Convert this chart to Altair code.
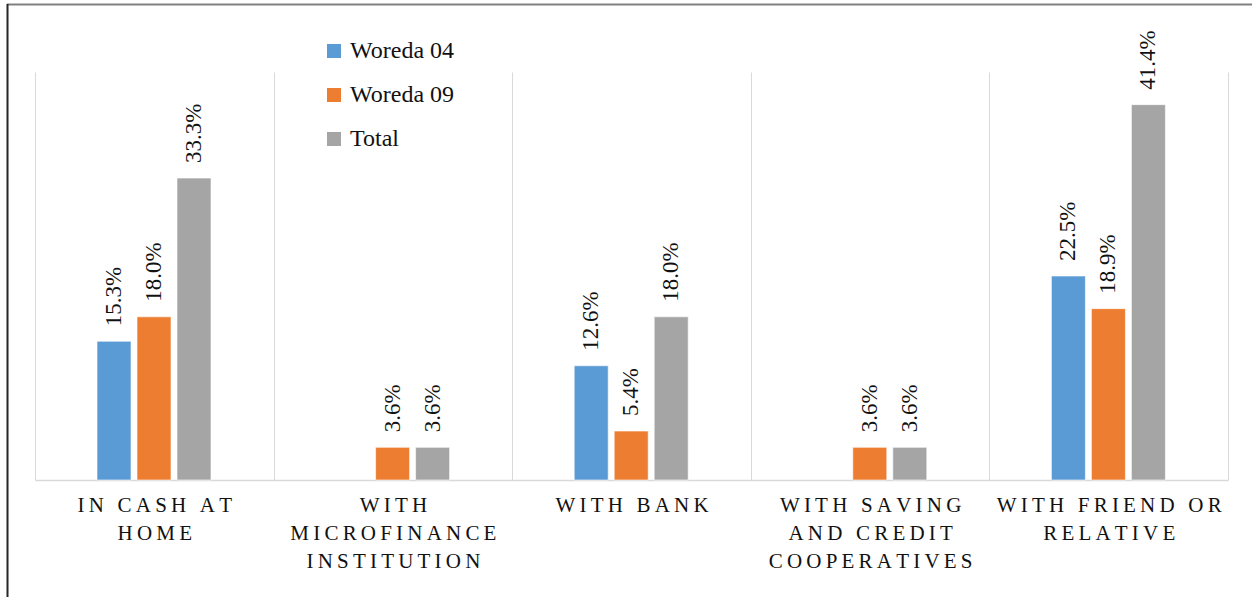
import altair as alt
import pandas as pd

# Where households keep their savings, by woreda (share of respondents, %)
categories = [
    "IN CASH AT HOME",
    "WITH MICROFINANCE INSTITUTION",
    "WITH BANK",
    "WITH SAVING AND CREDIT COOPERATIVES",
    "WITH FRIEND OR RELATIVE",
]
category_lines = [
    ["IN CASH AT", "HOME"],
    ["WITH", "MICROFINANCE", "INSTITUTION"],
    ["WITH BANK"],
    ["WITH SAVING", "AND CREDIT", "COOPERATIVES"],
    ["WITH FRIEND OR", "RELATIVE"],
]
series = ["Woreda 04", "Woreda 09", "Total"]
woreda_04 = [15.3, None, 12.6, None, 22.5]
woreda_09 = [18.0, 3.6, 5.4, 3.6, 18.9]
total = [33.3, 3.6, 18.0, 3.6, 41.4]
colors = ["#5B9BD5", "#ED7D31", "#A5A5A5"]

rows = []
for name, vals in zip(series, [woreda_04, woreda_09, total]):
    for cat, v in zip(categories, vals):
        if v is not None:
            rows.append({"category": cat, "series": name, "value": v,
                         "label": f"{v:.1f}%"})
df = pd.DataFrame(rows)

# Spaced-out, wrapped axis labels
THIN = "\u2009"
spaced = {cat: [THIN.join(line) for line in lines]
          for cat, lines in zip(categories, category_lines)}
label_expr = "{" + ", ".join(
    "'" + k + "': [" + ", ".join("'" + s + "'" for s in v) + "]"
    for k, v in spaced.items()) + "}[datum.label]"

SERIF = "Liberation Serif"

x = alt.X("category:N", sort=categories, title=None,
          scale=alt.Scale(paddingInner=0, paddingOuter=0),
          axis=alt.Axis(labelExpr=label_expr, labelAngle=0, labelFont=SERIF,
                        labelFontSize=21, labelColor="#111111",
                        labelPadding=14, labelLineHeight=28,
                        labelBaseline="top", labelLimit=0,
                        ticks=False, grid=True, tickBand="extent",
                        gridColor="#d9d9d9", gridWidth=1,
                        domainColor="#d9d9d9", domainWidth=1.5))
# three bars of ~34px with ~6px gaps, centred in each category band
xoff = alt.XOffset("series:N", sort=series,
                   scale=alt.Scale(domain=series, paddingInner=0.15,
                                   paddingOuter=0, range=[62, 176]))
y = alt.Y("value:Q", axis=None, scale=alt.Scale(domain=[0, 45], nice=False))

bars = alt.Chart(df).mark_bar(stroke="white", strokeWidth=0.6).encode(
    x=x, xOffset=xoff, y=y,
    color=alt.Color("series:N", sort=series,
                    scale=alt.Scale(domain=series, range=colors),
                    legend=alt.Legend(title=None, orient="none", legendX=287,
                                      legendY=-33, symbolType="square",
                                      symbolSize=196, symbolStrokeWidth=0,
                                      labelFont=SERIF, labelFontSize=24,
                                      labelColor="#111111", labelOffset=4,
                                      labelLimit=0, rowPadding=20)),
)

labels = alt.Chart(df).mark_text(angle=270, align="left", baseline="middle",
                                 dx=15, font=SERIF, fontSize=23,
                                 color="#111111").encode(
    x=alt.X("category:N", sort=categories), xOffset=xoff, y=y,
    text="label:N",
)

frame_src = pd.DataFrame({"k": [0]})
top_line = alt.Chart(frame_src).mark_rule(color="#808080", strokeWidth=2).encode(
    x=alt.value(-28), x2=alt.value(1217), y=alt.value(-67.5))
left_line = alt.Chart(frame_src).mark_rule(color="#262626", strokeWidth=2).encode(
    x=alt.value(-27.5), y=alt.value(-68), y2=alt.value(530))

chart = alt.layer(bars, labels, top_line, left_line).properties(
    width=1193, height=408,
    autosize=alt.AutoSizeParams(type="none"),
    padding={"left": 35, "top": 72, "right": 24, "bottom": 117},
    background="white",
).configure_view(stroke=None)

chart.save("out.html", embed_options={"renderer": "svg", "actions": False})
